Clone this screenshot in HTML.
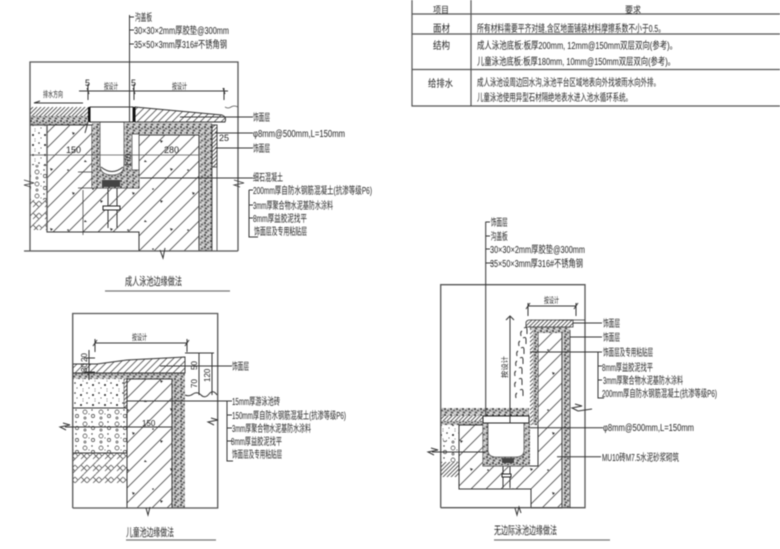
<!DOCTYPE html>
<html><head><meta charset="utf-8"><style>
html,body{margin:0;padding:0;background:#fff;width:780px;height:549px;overflow:hidden}
svg{display:block;filter:blur(.4px)}
text{font-family:"Liberation Sans","WenQuanYi Zen Hei","Noto Sans CJK SC",sans-serif;font-size:10px;fill:#222}
.l{fill:none;stroke:#333;stroke-width:1}
.f{fill:none;stroke:#555;stroke-width:1.3}
.t{fill:none;stroke:#666;stroke-width:1.2}
</style></head><body>
<svg width="780" height="549" viewBox="0 0 780 549" xmlns="http://www.w3.org/2000/svg">
<defs>
<pattern id="con" width="60" height="60" patternUnits="userSpaceOnUse">
<rect width="60" height="60" fill="#fff"/>
<path d="M-10 10L10 -10M-10 25L25 -10M-10 40L40 -10M-10 55L55 -10M-10 70L70 -10M5 70L70 5M20 70L70 20M35 70L70 35M50 70L70 50" stroke="#555" stroke-width=".9" fill="none"/>
<path d="M12 12l3 1-2 2zM40 20l3 1-2 2zM25 40l2 2-3 0zM50 48l3 1-2 2z" fill="#333"/><circle cx="33" cy="9" r=".8" fill="#222"/><circle cx="8" cy="50" r=".8" fill="#222"/>
</pattern>
<pattern id="dense" width="4" height="4" patternUnits="userSpaceOnUse"><rect width="4" height="4" fill="#fff"/><path d="M-1 1L1 -1M0 4L4 0M3 5L5 3" stroke="#444" stroke-width=".8"/></pattern>
<pattern id="hat" width="7" height="7" patternUnits="userSpaceOnUse"><rect width="7" height="7" fill="#fff"/><path d="M-1 1L1 -1M0 7L7 0M6 8L8 6" stroke="#555" stroke-width=".8"/></pattern>
<pattern id="grit" width="6" height="6" patternUnits="userSpaceOnUse"><rect width="6" height="6" fill="#b9b9b9"/><circle cx="1" cy="1" r=".9" fill="#222"/><circle cx="4" cy="2.500" r=".8" fill="#333"/><circle cx="2" cy="4.500" r=".9" fill="#333"/><circle cx="5" cy="5" r=".7" fill="#fff"/><circle cx="3" cy="0.500" r=".7" fill="#fff"/></pattern>
<pattern id="fine" width="12" height="10" patternUnits="userSpaceOnUse"><rect width="12" height="10" fill="#fff"/><circle cx="3" cy="3" r=".8" fill="#333"/><circle cx="9" cy="5" r="1" fill="#222"/><circle cx="5" cy="8" r=".6" fill="#555"/><circle cx="11" cy="1" r=".5" fill="#555"/><circle cx="11" cy="9" r=".5" fill="#555"/></pattern>
<pattern id="grav" width="16" height="12" patternUnits="userSpaceOnUse"><rect width="16" height="12" fill="#fff"/><circle cx="5" cy="4" r="2" fill="none" stroke="#444" stroke-width=".7"/><circle cx="13" cy="8" r="1.600" fill="none" stroke="#444" stroke-width=".7"/><circle cx="5" cy="10" r="1" fill="none" stroke="#444" stroke-width=".7"/><circle cx="12" cy="2" r=".7" fill="#333"/><circle cx="9" cy="6" r=".5" fill="#333"/></pattern>
<pattern id="herr" width="12" height="12" patternUnits="userSpaceOnUse"><rect width="12" height="12" fill="#fff"/><path d="M0 6L6 0M6 12L12 6M0 0L3 3M9 9L12 12M3 9L6 12M9 3L12 0M0 12L3 9" stroke="#555" stroke-width=".8" fill="none"/></pattern>
</defs>
<rect width="780" height="549" fill="#fff"/>

<!-- TABLE -->
<g class="t">
<path d="M412 0V106H780M471 0V106M412 14H780M412 34H780M412 69.500H780" stroke="#555"/>
</g>
<text x="433" y="13" textLength="16" lengthAdjust="spacingAndGlyphs" style="font-size:9px">项目</text>
<text x="625" y="13" textLength="16" lengthAdjust="spacingAndGlyphs" style="font-size:9px">要求</text>
<text x="433" y="32" textLength="17" lengthAdjust="spacingAndGlyphs">面材</text>
<text x="433" y="49" textLength="17" lengthAdjust="spacingAndGlyphs">结构</text>
<text x="428" y="87" textLength="25" lengthAdjust="spacingAndGlyphs">给排水</text>
<text x="477" y="32" textLength="188" lengthAdjust="spacingAndGlyphs">所有材料需要平齐对缝,含区地面铺装材料摩擦系数不小于0.5。</text>
<text x="477" y="49" textLength="200" lengthAdjust="spacingAndGlyphs">成人泳池底板:板厚200mm, 12mm@150mm双层双向(参考)。</text>
<text x="477" y="65" textLength="198" lengthAdjust="spacingAndGlyphs">儿童泳池底板:板厚180mm, 10mm@150mm双层双向(参考)。</text>
<text x="477" y="86" textLength="183" lengthAdjust="spacingAndGlyphs">成人泳池设周边回水沟,泳池平台区域地表向外找坡雨水向外排。</text>
<text x="477" y="101" textLength="155" lengthAdjust="spacingAndGlyphs">儿童泳池使用异型石材隔绝地表水进入池水循环系统。</text>

<!-- DIAGRAM 1 -->
<rect x="30" y="125" width="17" height="40" fill="url(#fine)"/>
<rect x="30" y="165" width="17" height="35" fill="url(#grav)"/>
<rect x="30" y="200" width="17" height="30" fill="url(#herr)"/>
<rect x="30" y="107" width="58" height="9" fill="url(#dense)"/>
<rect x="30" y="116" width="58" height="9" fill="url(#grit)"/>
<path d="M47 125H92V188H139V135H199V251H139V232H47Z" fill="url(#con)" stroke="#333"/>
<path d="M133 123H212V251H200V134H139V188H92V123H133Z" fill="url(#grit)"/>
<path d="M132 134H139V170H132Z" fill="#fff" stroke="#444" stroke-width=".7"/>
<path d="M135 107L222 115Q227 117 225 122H135Z" fill="url(#hat)" stroke="#333" stroke-width=".9"/>
<path d="M100 122H124V165Q124 175 112 175Q100 175 100 165Z" fill="#fff" stroke="#555" stroke-width=".8"/>
<path d="M101 167Q112 176 123 167" class="l"/>
<rect x="102" y="180" width="18" height="7" fill="#444"/>
<rect x="212" y="125" width="5" height="126" fill="#fff" stroke="#333" stroke-width=".8"/>
<rect x="212" y="125" width="5" height="42" fill="url(#dense)" stroke="#333" stroke-width=".8"/>
<rect x="90" y="107" width="43" height="15" fill="#fff" stroke="#333"/>
<rect x="88" y="107" width="2.500" height="15" fill="#111"/><rect x="133" y="107" width="2.500" height="15" fill="#111"/>
<path d="M88 122L85 133" class="l"/>
<path d="M30 251V62H238V251M24 251H238M30 125H47M47 125V232" class="f"/>
<path d="M30 155H199M225 107q3 2 6 0t7 0" stroke="#555" stroke-width=".8" fill="none"/>
<path d="M108 188V228M117 188V228" class="l"/>
<rect x="103" y="206" width="17" height="4" fill="#fff" stroke="#222"/>
<path d="M79 91H228M88 84V100M134 84V100M224 88V100M87 88l2 6M133 88l2 6M223 88l2 6" class="l"/>
<path d="M83 103H34l6-2" class="l"/>
<path d="M83 190V235M78 172H92M78 188H92M77 232H92" stroke="#333" stroke-width=".7" fill="none"/>
<text x="85" y="86" style="font-size:9px">5</text><text x="131" y="86" style="font-size:9px">5</text>
<text x="104" y="89" textLength="14" lengthAdjust="spacingAndGlyphs" style="font-size:8px">按设计</text>
<text x="172" y="89" textLength="15" lengthAdjust="spacingAndGlyphs" style="font-size:8px">按设计</text>
<text x="43" y="97" textLength="20" lengthAdjust="spacingAndGlyphs" style="font-size:8px">排水方向</text>
<text x="66" y="153" style="font-size:9px">150</text><text x="164" y="153" style="font-size:9px">280</text>
<text x="219" y="141" style="font-size:9px">25</text>
<text transform="translate(131,167) rotate(-90)" style="font-size:8px">170</text>
<path d="M129.500 15V122M129.500 17H134" class="l"/>
<path d="M129.500 30H134M129.500 44H134" class="l"/>
<text x="135" y="21" textLength="17" lengthAdjust="spacingAndGlyphs">沟盖板</text>
<text x="134" y="34" textLength="95" lengthAdjust="spacingAndGlyphs">30×30×2mm厚胶垫@300mm</text>
<text x="134" y="48" textLength="93" lengthAdjust="spacingAndGlyphs">35×50×3mm厚316#不锈角钢</text>
<path d="M180 117H253M215 133H253M215 148H253M140 178H253M249 190V237H258M249 190H253M249 205H253M249 218H253" class="l"/>
<path d="M31 187L24 185L34 183L24 180M240 187l-6-2 10-2-10-3" stroke="#333" fill="none" stroke-width=".8"/>
<path d="M160 250l3 8 2-10" class="l"/>
<text x="253" y="121" textLength="17" lengthAdjust="spacingAndGlyphs">饰面层</text>
<text x="253" y="137" textLength="92" lengthAdjust="spacingAndGlyphs">φ8mm@500mm,L=150mm</text>
<text x="253" y="152" textLength="17" lengthAdjust="spacingAndGlyphs">饰面层</text>
<text x="253" y="181" textLength="30" lengthAdjust="spacingAndGlyphs">细石混凝土</text>
<text x="253" y="194" textLength="119" lengthAdjust="spacingAndGlyphs">200mm厚自防水钢筋混凝土(抗渗等级P6)</text>
<text x="253" y="209" textLength="80" lengthAdjust="spacingAndGlyphs">3mm厚聚合物水泥基防水涂料</text>
<text x="253" y="222" textLength="54" lengthAdjust="spacingAndGlyphs">8mm厚益胶泥找平</text>
<text x="254" y="235" textLength="53" lengthAdjust="spacingAndGlyphs">饰面层及专用粘贴层</text>
<text x="125" y="285" textLength="57" lengthAdjust="spacingAndGlyphs" style="font-size:11px">成人泳池边缘做法</text>
<path d="M105 291H230" stroke="#777" stroke-width="1.300"/>

<!-- DIAGRAM 2 -->
<rect x="73" y="379" width="51" height="29" fill="url(#fine)"/>
<rect x="73" y="408" width="54" height="45" fill="url(#grav)"/>
<rect x="73" y="453" width="54" height="30" fill="url(#herr)"/>
<rect x="124" y="379" width="3" height="29" fill="url(#dense)" stroke="#444" stroke-width=".6"/>
<path d="M73 373H185V508H172V379H73Z" fill="url(#grit)"/>
<rect x="127" y="379" width="45" height="129" fill="url(#con)" stroke="#333"/>
<path d="M73 364H97L127 360L185 357V373H73Z" fill="url(#hat)" stroke="#333" stroke-width=".9"/>
<path d="M73 408H127M73 453H127" class="l"/>
<path d="M72.700 508V313.500H217.700V508H72.700" class="f"/>
<path d="M95 343H187M95 339V352M187 339V352M93 346l4-6M185 346l4-6" class="l"/>
<path d="M185 353H214M185 395q4 2 8-1t8 1t8-1t8 1M199 353V395M212 353V395M89 350V380M84 358H95M84 364H95M84 372H95" class="l"/>
<text x="132" y="340" textLength="15" lengthAdjust="spacingAndGlyphs" style="font-size:8px">按设计</text>
<text transform="translate(197,370) rotate(-90)" style="font-size:8px">50</text>
<text transform="translate(197,388) rotate(-90)" style="font-size:8px">70</text>
<text transform="translate(210,382) rotate(-90)" style="font-size:8px">120</text>
<text transform="translate(87,362) rotate(-90)" style="font-size:8px">20</text>
<text transform="translate(87,372) rotate(-90)" style="font-size:8px">30</text>
<text x="142" y="426" style="font-size:8px">150</text>
<path d="M65 427H172M127 401H232M227 401V461H233M227 415H232M227 428H232M227 441H232M160 366H232" class="l"/>
<path d="M66 430l-6-3 10-2-7-2M214 425l-6-3 10-2-7-2M146 508l2 7 2-8" class="l"/>
<text x="232" y="370" textLength="17" lengthAdjust="spacingAndGlyphs">饰面层</text>
<text x="232" y="405" textLength="48" lengthAdjust="spacingAndGlyphs">15mm厚游泳池砖</text>
<text x="232" y="419" textLength="114" lengthAdjust="spacingAndGlyphs">150mm厚自防水钢筋混凝土(抗渗等级P6)</text>
<text x="232" y="432" textLength="79" lengthAdjust="spacingAndGlyphs">3mm厚聚合物水泥基防水涂料</text>
<text x="231" y="445" textLength="51" lengthAdjust="spacingAndGlyphs">8mm厚益胶泥找平</text>
<text x="232" y="458" textLength="50" lengthAdjust="spacingAndGlyphs">饰面层及专用粘贴层</text>
<text x="126" y="536" textLength="48" lengthAdjust="spacingAndGlyphs" style="font-size:11px">儿童池边缘做法</text>
<path d="M126 540H216" stroke="#777" stroke-width="1.300"/>

<!-- DIAGRAM 3 -->
<rect x="441" y="425" width="18" height="15" fill="url(#fine)"/>
<rect x="441" y="440" width="18" height="22" fill="url(#grav)"/>
<rect x="441" y="462" width="18" height="15" fill="url(#dense)"/>
<rect x="441" y="408" width="88" height="8" fill="url(#grit)"/>
<rect x="441" y="416" width="42" height="5" fill="url(#dense)"/>
<rect x="441" y="421" width="42" height="4" fill="url(#grit)"/>
<path d="M459 425H483V466H538V332H562V508H531V489H459Z" fill="url(#con)" stroke="#333"/>
<path d="M530 327H570V508H563V333H538V425H530Z" fill="url(#grit)"/>
<rect x="530" y="330" width="3" height="95" fill="url(#dense)"/>
<path d="M483 423H530V466H483Z" fill="url(#grit)"/>
<path d="M488 423H524V450Q524 457 516 457H496Q488 457 488 450Z" fill="#fff" stroke="#555" stroke-width=".8"/>
<rect x="502" y="458" width="12" height="5" fill="#444"/>
<path d="M526 327V322Q527 320 530 320H573V323L573 327Z" fill="url(#dense)" stroke="#333" stroke-width=".8"/>
<rect x="483" y="416" width="46" height="7" fill="#fff" stroke="#222"/>
<path d="M440.700 507.700V284.700H585V507.700H440.700" class="f"/>
<path d="M570 330V508M559 320H585" stroke="#333" stroke-width=".8" fill="none"/>
<path d="M528 306H576M528 303V316M576 303V316M526 309l4-6M574 309l4-6M510 316V423M506 320l4-4 4 4" class="l"/>
<path d="M503 466V488M510 466V488" class="l"/>
<rect x="502" y="474" width="9" height="3" fill="#fff" stroke="#222"/>
<text x="544" y="303" textLength="15" lengthAdjust="spacingAndGlyphs" style="font-size:8px">按设计</text>
<text transform="translate(507,378) rotate(-90)" textLength="22" lengthAdjust="spacingAndGlyphs" style="font-size:7px">按设计</text>
<g fill="none" stroke="#333" stroke-width="1">
<path d="M524 328q3-2 3 2v4M523 338q3-2 3 2v4M521 348q3-2 3 2v4M520 358q3-2 3 2v4M519 368q3-2 3 2v4M519 379q3-2 3 2v4M520 390q3-2 3 2v4"/>
<path d="M522 331q-2 1-1 5M520 341q-2 1-1 5M518 351q-2 1-1 5M517 361q-2 1-1 5M516 371q-2 1-1 5M516 382q-2 1-1 5M517 393q-2 1-1 5"/>
</g>
<path d="M485.700 221.700V416.700M485.700 222H490M485.700 236H490M485.700 249H490M485.700 263H493" class="l"/>
<path d="M573 323H602M570 337H602M530 352H602M598 352V398H604M598 366H602M598 380H602M530 427.700H603M557 456.700H601M432 452H486" class="l"/>
<path d="M434 455l-6-3 10-2-7-2M578 411l-6-3 10-2-7-2M515 508l2 7 2-8 2 6M578 411l14-2" class="l"/>
<text x="490.700" y="226" textLength="17" lengthAdjust="spacingAndGlyphs">饰面层</text>
<text x="490.700" y="240" textLength="17" lengthAdjust="spacingAndGlyphs">沟盖板</text>
<text x="490" y="253" textLength="95" lengthAdjust="spacingAndGlyphs">30×30×2mm厚胶垫@300mm</text>
<text x="490" y="267" textLength="93" lengthAdjust="spacingAndGlyphs">35×50×3mm厚316#不锈角钢</text>
<text x="603" y="327" textLength="17" lengthAdjust="spacingAndGlyphs">饰面层</text>
<text x="603" y="341" textLength="17" lengthAdjust="spacingAndGlyphs">饰面层</text>
<text x="603" y="356" textLength="50" lengthAdjust="spacingAndGlyphs">饰面层及专用粘贴层</text>
<text x="602" y="371" textLength="51" lengthAdjust="spacingAndGlyphs">8mm厚益胶泥找平</text>
<text x="603" y="384" textLength="80" lengthAdjust="spacingAndGlyphs">3mm厚聚合物水泥基防水涂料</text>
<text x="602" y="397" textLength="115" lengthAdjust="spacingAndGlyphs">200mm厚自防水钢筋混凝土(抗渗等级P6)</text>
<text x="603" y="431" textLength="91" lengthAdjust="spacingAndGlyphs">φ8mm@500mm,L=150mm</text>
<text x="602" y="461" textLength="77" lengthAdjust="spacingAndGlyphs">MU10砖M7.5水泥砂浆砌筑</text>
<text x="494" y="534" textLength="63" lengthAdjust="spacingAndGlyphs" style="font-size:11px">无边际泳池边缘做法</text>
<path d="M494 540H610" stroke="#777" stroke-width="1.300"/>
</svg>
</body></html>
